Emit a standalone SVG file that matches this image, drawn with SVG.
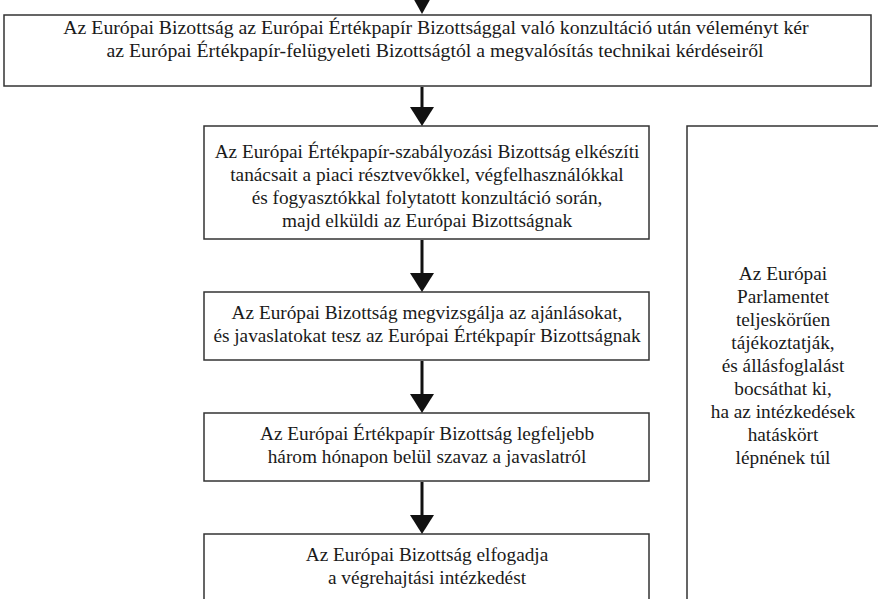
<svg xmlns="http://www.w3.org/2000/svg" width="878" height="599" viewBox="0 0 878 599">
<defs>
<style>
.box{fill:#fff;stroke:#333;stroke-width:1.5}
.t{font-family:'Liberation Serif','Times New Roman',serif;font-size:19.3px;fill:#1a1a1a;text-anchor:middle}
.w{font-size:19.8px}
.c{stroke:#111;stroke-width:3;fill:none}
.h{fill:#111}
</style>
</defs>
<rect width="878" height="599" fill="#fff"/>
<g id="n1">
<rect class="box" x="4" y="15" width="867" height="71"/>
<text class="t w" x="436" y="34">Az Európai Bizottság az Európai Értékpapír Bizottsággal való konzultáció után véleményt kér</text>
<text class="t w" x="435" y="57">az Európai Értékpapír-felügyeleti Bizottságtól a megvalósítás technikai kérdéseiről</text>
</g>
<g id="n2">
<rect class="box" x="204" y="126" width="445" height="113"/>
<text class="t" x="427" y="158">Az Európai Értékpapír-szabályozási Bizottság elkészíti</text>
<text class="t" x="427" y="181">tanácsait a piaci résztvevőkkel, végfelhasználókkal</text>
<text class="t" x="427" y="204">és fogyasztókkal folytatott konzultáció során,</text>
<text class="t" x="427" y="227">majd elküldi az Európai Bizottságnak</text>
</g>
<g id="n3">
<rect class="box" x="204" y="292" width="445" height="68"/>
<text class="t" x="427" y="319">Az Európai Bizottság megvizsgálja az ajánlásokat,</text>
<text class="t" x="427" y="342">és javaslatokat tesz az Európai Értékpapír Bizottságnak</text>
</g>
<g id="n4">
<rect class="box" x="204" y="413" width="445" height="68"/>
<text class="t" x="427" y="440">Az Európai Értékpapír Bizottság legfeljebb</text>
<text class="t" x="427" y="463">három hónapon belül szavaz a javaslatról</text>
</g>
<g id="n5">
<rect class="box" x="204" y="534" width="445" height="80"/>
<text class="t" x="427" y="561">Az Európai Bizottság elfogadja</text>
<text class="t" x="427" y="584">a végrehajtási intézkedést</text>
</g>
<g id="n6">
<rect class="box" x="687" y="126" width="200" height="490"/>
<text class="t" x="783" y="280">Az Európai</text>
<text class="t" x="783" y="303">Parlamentet</text>
<text class="t" x="783" y="326">teljeskörűen</text>
<text class="t" x="783" y="349">tájékoztatják,</text>
<text class="t" x="783" y="372">és állásfoglalást</text>
<text class="t" x="783" y="395">bocsáthat ki,</text>
<text class="t" x="783" y="418">ha az intézkedések</text>
<text class="t" x="783" y="441">hatáskört</text>
<text class="t" x="783" y="464">lépnének túl</text>
</g>
<g id="connectors">
<line class="c" x1="422" y1="-10" x2="422" y2="2"/>
<polygon class="h" points="412,-4 432,-4 422,14"/>
<line class="c" x1="422" y1="87" x2="422" y2="110"/>
<polygon class="h" points="410,107 434,107 422,126"/>
<line class="c" x1="422" y1="240" x2="422" y2="276"/>
<polygon class="h" points="410,273 434,273 422,292"/>
<line class="c" x1="422" y1="361" x2="422" y2="397"/>
<polygon class="h" points="410,394 434,394 422,413"/>
<line class="c" x1="422" y1="482" x2="422" y2="518"/>
<polygon class="h" points="410,515 434,515 422,534"/>
</g>
</svg>
